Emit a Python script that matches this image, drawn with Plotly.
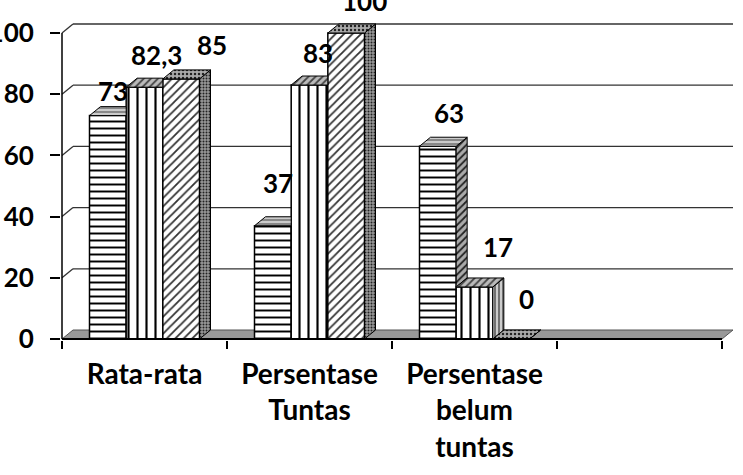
import plotly.graph_objects as go

# ---------------- data ----------------
categories = ["Rata-rata", "Persentase<br>Tuntas", "Persentase<br>belum<br>tuntas", ""]
series_names = ["Siklus I", "Siklus II", "Siklus III"]
s1 = [73, 37, 63]
s2 = [82.3, 83, 17]
s3 = [85, 100, 0]
y_ticks = [0, 20, 40, 60, 80, 100]
series = [s1, s2, s3]

# ---------------- layout constants ----------------
W, H = 743, 475
M_L, M_R, M_T, M_B = 61, 8, 20, 135
PX_X = 165.0          # pixels per category
PX_Y = 3.06           # pixels per value unit
plot_w = W - M_L - M_R
plot_h = H - M_T - M_B
x_lo = -0.5 - 1 / PX_X
x_range = [x_lo, x_lo + plot_w / PX_X]
y_lo = -1 / PX_Y
y_range = [y_lo, y_lo + plot_h / PX_Y]
DX = 11 / PX_X        # 3D depth offset (x, data units)
DY = 9 / PX_Y         # 3D depth offset (y, data units)
GROUP = 2 / 3
BW = GROUP / 3
FONT = dict(family="Lato", size=26, color="black", weight="bold")
CAT_FONT = dict(family="Lato", size=28, color="black", weight="bold")

# label shifts (pixels) for each value label: (right, up)
label_shift = [
    [(5, 25), (12, 32), (31, 34)],
    [(5, 43), (8, 32), (18, 32)],
    [(11, 33), (23, 40), (15, 40)],
]

front_patterns = [
    dict(shape="-", size=7, solidity=0.28, fgcolor="black", bgcolor="white", fillmode="replace"),
    dict(shape="|", size=9, solidity=0.24, fgcolor="black", bgcolor="white", fillmode="replace"),
    dict(shape="/", size=6, solidity=0.3, fgcolor="#333333", bgcolor="white", fillmode="replace"),
]
top_patterns = [
    dict(shape="-", size=4, solidity=0.4, fgcolor="#dddddd", bgcolor="#888888", fillmode="replace"),
    dict(shape="/", size=5, solidity=0.35, fgcolor="#444444", bgcolor="#bbbbbb", fillmode="replace"),
    dict(shape=".", size=4, solidity=0.3, fgcolor="#222222", bgcolor="#aaaaaa", fillmode="replace"),
]
side_patterns = [
    dict(shape="/", size=5, solidity=0.35, fgcolor="#222222", bgcolor="#aaaaaa", fillmode="replace"),
    dict(shape="|", size=4, solidity=0.3, fgcolor="#333333", bgcolor="#cccccc", fillmode="replace"),
    dict(shape=".", size=3, solidity=0.35, fgcolor="#222222", bgcolor="#999999", fillmode="replace"),
]

fig = go.Figure()

# front faces of the bars
for k, vals in enumerate(series):
    fig.add_trace(go.Bar(
        x=list(range(len(vals))), y=vals, name=series_names[k],
        width=BW, offset=-GROUP / 2 + k * BW,
        marker=dict(color="white", line=dict(color="black", width=1.5),
                    pattern=front_patterns[k]),
        showlegend=False, hoverinfo="y",
    ))

# top and side faces (3D effect), painted left to right
def face(xs, ys, pat):
    fig.add_trace(go.Scatter(
        x=xs + [xs[0]], y=ys + [ys[0]], mode="lines", fill="toself",
        fillpattern=pat, fillcolor=pat["bgcolor"],
        line=dict(color="black", width=1), showlegend=False, hoverinfo="skip",
    ))

n_cat = len(s1)
for i in range(n_cat):
    for k in range(3):
        h = series[k][i]
        xl = i - GROUP / 2 + k * BW
        xr = xl + BW
        hn = series[k + 1][i] if k < 2 else None
        # side face
        if hn is None or hn < h:
            base = 0 if hn is None else hn
            face([xr, xr, xr + DX, xr + DX], [base, h, h + DY, base + DY], side_patterns[k])
        # top face
        if hn is not None and hn > h:
            face([xl, xr, xr, xl + DX], [h, h, h + DY, h + DY], top_patterns[k])
        else:
            face([xl, xr, xr + DX, xl + DX], [h, h, h + DY, h + DY], top_patterns[k])

# value labels
for k in range(3):
    for i in range(n_cat):
        v = series[k][i]
        txt = (f"{v:g}").replace(".", ",")
        dx, dy = label_shift[i][k]
        fig.add_annotation(
            x=i - GROUP / 2 + (k + 0.5) * BW, y=v, xref="x", yref="y",
            text=txt, showarrow=False, xshift=dx, yshift=dy,
            xanchor="center", yanchor="middle", font=FONT,
        )

# back wall gridlines + left-wall diagonals, floor, front axis lines
x_first, x_last = -0.5, len(categories) - 0.5
shapes = []
for t in y_ticks[1:]:
    shapes.append(dict(type="line", xref="x", yref="y", layer="below",
                       x0=x_first + DX, x1=x_last + DX, y0=t + DY, y1=t + DY,
                       line=dict(color="#333333", width=1.3)))
    shapes.append(dict(type="line", xref="x", yref="y", layer="below",
                       x0=x_first, x1=x_first + DX, y0=t, y1=t + DY,
                       line=dict(color="#333333", width=1.3)))
shapes.append(dict(type="path", xref="x", yref="y", layer="below",
                   path=f"M {x_first},{0} L {x_last},{0} L {x_last + DX},{DY} L {x_first + DX},{DY} Z",
                   fillcolor="#999999", line=dict(color="#555555", width=1)))
shapes.append(dict(type="line", xref="x", yref="y", layer="above",
                   x0=x_first, x1=x_last, y0=0, y1=0,
                   line=dict(color="black", width=2)))
shapes.append(dict(type="line", xref="x", yref="y", layer="above",
                   x0=x_first, x1=x_first, y0=0, y1=y_ticks[-1],
                   line=dict(color="black", width=1.5)))

fig.update_layout(
    width=W, height=H,
    margin=dict(l=M_L, r=M_R, t=M_T, b=M_B, pad=0, autoexpand=False),
    paper_bgcolor="white", plot_bgcolor="white",
    barmode="overlay", showlegend=False,
    shapes=shapes,
    xaxis=dict(
        range=x_range, showgrid=False, zeroline=False, showline=False, automargin=False,
        tickmode="array", tickvals=list(range(len(categories))), ticktext=categories,
        ticks="", tickfont=CAT_FONT, ticklabelstandoff=15,
        minor=dict(tickmode="array", tickvals=[c - 0.5 for c in range(len(categories) + 1)],
                   ticks="outside", ticklen=8, tickcolor="black", tickwidth=1.5, showgrid=False),
    ),
    yaxis=dict(
        range=y_range, showgrid=False, zeroline=False, showline=False, automargin=False,
        tickmode="array", tickvals=y_ticks, ticks="outside", ticklen=10,
        tickcolor="black", tickwidth=1.5, tickfont=FONT, ticklabelstandoff=11,
    ),
)

fig.write_html("out.html")
